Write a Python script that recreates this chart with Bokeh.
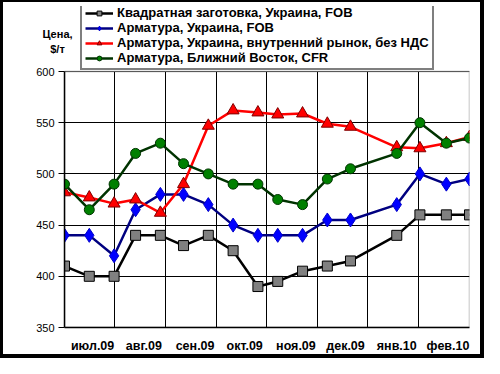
import pandas as pd
from bokeh.plotting import figure
from bokeh.models import Range1d, FixedTicker, Legend, LegendItem, Label, BoxAnnotation
from bokeh.embed import file_html
from bokeh.resources import INLINE

# ---- data ----
dates = ["2009-06-01", "2009-06-16", "2009-07-01", "2009-07-14", "2009-07-29",
         "2009-08-12", "2009-08-27", "2009-09-11", "2009-09-26", "2009-10-08",
         "2009-10-23", "2009-11-07", "2009-11-21", "2009-12-19", "2010-01-02",
         "2010-01-18", "2010-02-01"]
billet_ua_fob = [410, 400, 400, 440, 440, 430, 440, 425, 390, 395, 405, 410, 415, 440, 460, 460, 460]
rebar_ua_fob = [440, 440, 420, 465, 480, 480, 470, 450, 440, 440, 440, 455, 455, 470, 500, 490, 495]
rebar_ua_dom = [482, 477, 471, 475, 462, 490, 547, 562, 560, 558, 559, 549, 546, 526, 525, 530, 536]
rebar_me_cfr = [490, 465, 490, 520, 530, 510, 500, 490, 490, 475, 470, 495, 505, 520, 550, 530, 535]
series_names = ["Квадратная заготовка, Украина, FOB",
                "Арматура, Украина, FOB",
                "Арматура, Украина, внутренний рынок, без НДС",
                "Арматура, Ближний Восток, CFR"]
month_labels = ["июл.09", "авг.09", "сен.09", "окт.09", "ноя.09", "дек.09", "янв.10", "фев.10"]
y_ticks = [350, 400, 450, 500, 550, 600]
y_title = "Цена,\n$/т"

FONT = "Liberation Sans"
origin = pd.Timestamp(dates[0])
x = [(pd.Timestamp(d) - origin).days for d in dates]
month_starts = pd.date_range("2009-07-01", "2010-02-01", freq="MS")
month_days = [(m - origin).days for m in month_starts]
label_pos = [d - 13 for d in month_days]

# layout (pixels)
W, H = 484, 358
B_LEFT, B_RIGHT, B_TOP, B_BOTTOM = 60, 18, 4, 33
TOP_OF_AXIS = 69          # pixel row of the 600 line
axis_px = (H - B_BOTTOM) - TOP_OF_AXIS
y_end = y_ticks[-1] + (y_ticks[-1] - y_ticks[0]) * (TOP_OF_AXIS - B_TOP) / axis_px

p = figure(width=W, height=H, output_backend="svg", toolbar_location=None,
           x_range=Range1d(x[0], x[-1]), y_range=Range1d(y_ticks[0], y_end),
           min_border_left=B_LEFT, min_border_right=B_RIGHT,
           min_border_top=B_TOP, min_border_bottom=B_BOTTOM)
p.styles = {"border-style": "solid", "border-color": "black", "border-width": "2px 4px 4px 3px"}
p.background_fill_color = "white"
p.border_fill_color = "white"
p.outline_line_color = None

# grids
p.ygrid.ticker = FixedTicker(ticks=y_ticks)
p.ygrid.grid_line_color = "black"
p.ygrid.grid_line_width = 1
p.xgrid.ticker = FixedTicker(ticks=month_days[:-1])
p.xgrid.grid_line_color = "black"
p.xgrid.grid_line_width = 1

# axes
p.xaxis.ticker = FixedTicker(ticks=label_pos)
p.xaxis.major_label_overrides = {lp: lab for lp, lab in zip(label_pos, month_labels)}
p.xaxis.major_tick_line_color = None
p.xaxis.minor_tick_line_color = None
p.xaxis.axis_line_color = "black"
p.xaxis.axis_line_width = 1.5
p.xaxis.major_label_text_font = FONT
p.xaxis.major_label_text_font_style = "bold"
p.xaxis.major_label_text_font_size = "12.5px"
p.xaxis.major_label_text_color = "black"
p.xaxis.major_label_standoff = 5

p.yaxis.ticker = FixedTicker(ticks=y_ticks)
p.yaxis.bounds = (y_ticks[0], y_ticks[-1])
p.yaxis.major_tick_out = 6
p.yaxis.major_tick_in = 0
p.yaxis.major_tick_line_color = "black"
p.yaxis.minor_tick_line_color = None
p.yaxis.axis_line_color = "black"
p.yaxis.axis_line_width = 1.5
p.yaxis.major_label_text_font = FONT
p.yaxis.major_label_text_font_size = "11px"
p.yaxis.major_label_text_color = "black"
p.yaxis.major_label_standoff = 4

# white area above the plot box (hides grid there) and the plot box itself
p.add_layout(BoxAnnotation(bottom=y_ticks[-1], fill_color="white", fill_alpha=1,
                           line_alpha=0, level="underlay"))
p.add_layout(BoxAnnotation(bottom=y_ticks[0], top=y_ticks[-1], fill_alpha=0,
                           line_color="black", line_width=1.5, level="underlay"))

# series
styles = [
    dict(line="#000000", marker="square", size=10, fill="#808080", mline="#000000"),
    dict(line="#000080", marker="diamond", size=14, fill="#0000FF", mline="#0000CC"),
    dict(line="#FF0000", marker="triangle", size=12, fill="#FF0000", mline="#800000"),
    dict(line="#003300", marker="circle", size=10, fill="#008000", mline="#003300"),
]
items = []
for name, ys, st in zip(series_names, [billet_ua_fob, rebar_ua_fob, rebar_ua_dom, rebar_me_cfr], styles):
    r1 = p.line(x, ys, line_color=st["line"], line_width=2.5)
    r2 = p.scatter(x, ys, marker=st["marker"], size=st["size"], fill_color=st["fill"],
                   line_color=st["mline"], line_width=1)
    items.append(LegendItem(label=name, renderers=[r1, r2]))

legend = Legend(items=items, location=(16, (H - B_BOTTOM) - 68))
legend.label_text_font = FONT
legend.label_text_font_style = "bold"
legend.label_text_font_size = "13px"
legend.label_text_color = "black"
legend.glyph_width = 28
legend.glyph_height = 12
legend.label_height = 12
try:
    legend.spacing = -5
except Exception:
    legend.spacing = 0
legend.padding = 3
legend.margin = 0
legend.label_standoff = 4
legend.border_line_color = "black"
legend.border_line_width = 2
legend.background_fill_color = "white"
legend.background_fill_alpha = 1
p.add_layout(legend, "center")

# y title, in the left side panel
p.add_layout(Label(x=54, y=(H - B_BOTTOM) - 39, x_units="screen", y_units="screen", text=y_title,
                   text_align="center", text_baseline="middle", text_font=FONT,
                   text_font_style="bold", text_font_size="11px", text_color="black"), "left")

open("out.html", "w").write(file_html(p, INLINE))
